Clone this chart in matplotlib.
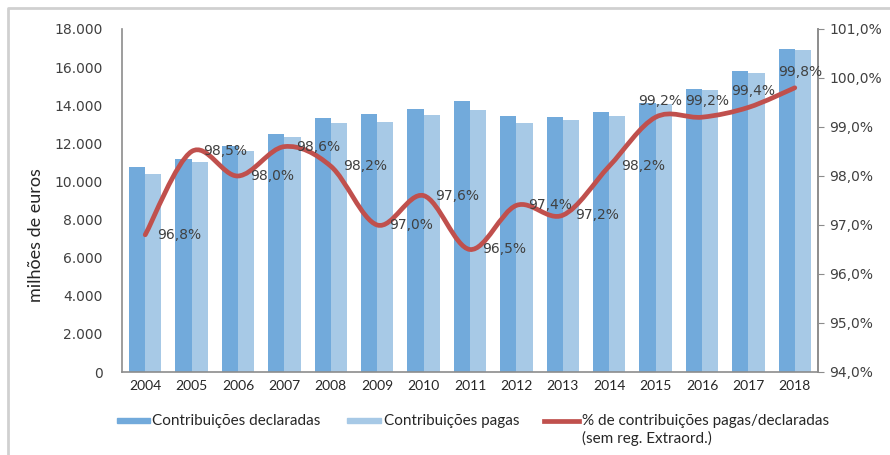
import matplotlib
matplotlib.use("Agg")
import matplotlib.pyplot as plt
from matplotlib.path import Path
from matplotlib.patches import PathPatch, Rectangle
from matplotlib.lines import Line2D
from matplotlib.ticker import FuncFormatter

# dados
anos = ["2004", "2005", "2006", "2007", "2008", "2009", "2010", "2011",
        "2012", "2013", "2014", "2015", "2016", "2017", "2018"]
declaradas = [10750, 11190, 11840, 12500, 13310, 13520, 13800, 14240,
              13410, 13380, 13660, 14130, 14830, 15790, 16930]
pagas = [10400, 11000, 11580, 12330, 13050, 13120, 13470, 13730,
         13050, 13220, 13430, 14060, 14780, 15700, 16890]
perc = [96.8, 98.5, 98.0, 98.6, 98.2, 97.0, 97.6, 96.5,
        97.4, 97.2, 98.2, 99.2, 99.2, 99.4, 99.8]

cor_escura = "#72AADB"
cor_clara = "#A7C9E6"
cor_linha = "#C0504D"
cor_eixo = "#8C8C8C"
cor_texto = "#404040"
narrow = ["Liberation Sans Narrow", "Lato", "DejaVu Sans"]

fig = plt.figure(figsize=(8.9, 4.55), dpi=100)
ax = fig.add_axes([122 / 890, 83 / 455, 696 / 890, 343 / 455])
ax2 = ax.twinx()

x = list(range(len(anos)))
w = 0.35
ax.bar([i - w / 2 for i in x], declaradas, width=w, color=cor_escura, zorder=2)
ax.bar([i + w / 2 for i in x], pagas, width=w, color=cor_clara, zorder=2)

ax.set_xlim(-0.5, len(anos) - 0.5)
ax.set_ylim(0, 18000)
ax.set_yticks(range(0, 18001, 2000))
ax.yaxis.set_major_formatter(FuncFormatter(lambda v, p: f"{int(v):,}".replace(",", ".")))
ax.set_xticks(x)
ax.set_xticklabels(anos, family=narrow, fontsize=10, color="#262626")
ax.tick_params(axis="x", length=0, pad=6)
ax.tick_params(axis="y", length=0, labelsize=10, labelcolor=cor_texto, pad=14)
ax.set_ylabel("milhões de euros", family="Lato", fontsize=13, color="#262626")
ax.yaxis.set_label_coords(-0.112, 0.40)

# linha suavizada (bezier tipo Excel)
verts = [(x[0], perc[0])]
codes = [Path.MOVETO]
n = len(perc)
for i in range(n - 1):
    p0 = (x[max(i - 1, 0)], perc[max(i - 1, 0)])
    p1 = (x[i], perc[i])
    p2 = (x[i + 1], perc[i + 1])
    p3 = (x[min(i + 2, n - 1)], perc[min(i + 2, n - 1)])
    c1 = (p1[0] + (p2[0] - p0[0]) / 6, p1[1] + (p2[1] - p0[1]) / 6)
    c2 = (p2[0] - (p3[0] - p1[0]) / 6, p2[1] - (p3[1] - p1[1]) / 6)
    verts += [c1, c2, p2]
    codes += [Path.CURVE4] * 3
ax2.add_patch(PathPatch(Path(verts, codes), facecolor="none", edgecolor=cor_linha,
                        lw=3.4, capstyle="round", joinstyle="round", zorder=3))

ax2.set_ylim(94, 101)
ax2.set_yticks(range(94, 102))
ax2.yaxis.set_major_formatter(FuncFormatter(lambda v, p: f"{v:.1f}%".replace(".", ",")))
ax2.tick_params(axis="y", length=4, color=cor_eixo, labelsize=10, labelcolor=cor_texto, pad=4)

for i, v in enumerate(perc):
    txt = f"{v:.1f}%".replace(".", ",")
    if i < 11:
        ax2.annotate(txt, (x[i], v), xytext=(12, 0), textcoords="offset pixels",
                     ha="left", va="center", fontsize=10, color=cor_texto, zorder=4)
    else:
        ax2.annotate(txt, (x[i], v), xytext=(5, 16), textcoords="offset pixels",
                     ha="center", va="center", fontsize=10, color=cor_texto, zorder=4)

for a in (ax, ax2):
    a.spines["top"].set_visible(False)
    for s in ("left", "right", "bottom"):
        a.spines[s].set_color(cor_eixo)
        a.spines[s].set_linewidth(1.2)
ax2.spines["left"].set_visible(False)
ax2.spines["bottom"].set_visible(False)

# legenda
fig.add_artist(Rectangle((117 / 890, 1 - 423 / 455), 33 / 890, 5 / 455,
                         transform=fig.transFigure, color=cor_escura))
fig.text(152 / 890, 1 - 421 / 455, "Contribuições declaradas", family=narrow,
         fontsize=11, color="#262626", va="center")
fig.add_artist(Rectangle((347 / 890, 1 - 423 / 455), 34 / 890, 5 / 455,
                         transform=fig.transFigure, color=cor_clara))
fig.text(384 / 890, 1 - 421 / 455, "Contribuições pagas", family=narrow,
         fontsize=11, color="#262626", va="center")
fig.add_artist(Line2D([544 / 890, 579 / 890], [1 - 421 / 455, 1 - 421 / 455],
                      transform=fig.transFigure, color=cor_linha, lw=3.4))
fig.text(582 / 890, 1 - 421 / 455, "% de contribuições pagas/declaradas", family=narrow,
         fontsize=11, color="#262626", va="center")
fig.text(582 / 890, 1 - 438 / 455, "(sem reg. Extraord.)", family=narrow,
         fontsize=11, color="#262626", va="center")

# moldura
fig.add_artist(Line2D([8 / 890, 8 / 890, 1], [0, 1 - 8 / 455, 1 - 8 / 455],
                      transform=fig.transFigure, color="#D0D0D0", lw=2))

fig.savefig("out.png", dpi=100)
